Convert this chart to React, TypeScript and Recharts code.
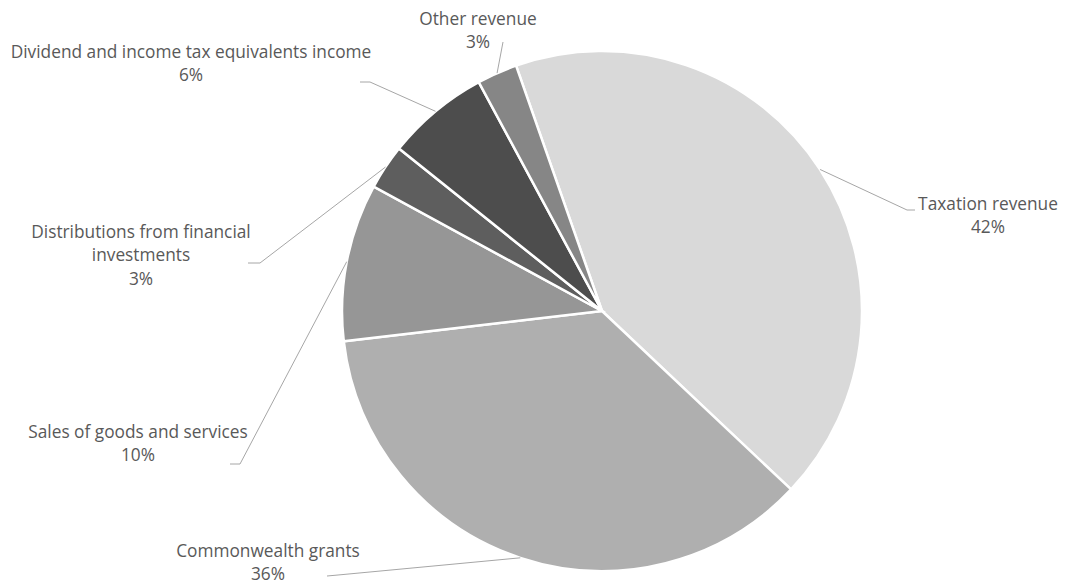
import React from "react";
import { PieChart, Pie, Cell } from "recharts";

const categories = [
  "Taxation revenue",
  "Commonwealth grants",
  "Sales of goods and services",
  "Distributions from financial investments",
  "Dividend and income tax equivalents income",
  "Other revenue",
];

// share of total revenue, %
const shares = [42.4, 36.1, 9.8, 2.8, 6.4, 2.5];

const sliceColors = ["#d9d9d9", "#afafaf", "#969696", "#5e5e5e", "#4d4d4d", "#868686"];

// where each label sits (leader elbow, leader end, text centre, line break)
const labelLayout = [
  { elbow: [907, 210], end: [915, 210], tx: 988, ty: 205, breakAfter: 0 },
  { elbow: [338, 575], end: [327, 576], tx: 268, ty: 552, breakAfter: 0 },
  { elbow: [240, 464], end: [230, 464], tx: 138, ty: 433, breakAfter: 0 },
  { elbow: [260, 263], end: [248, 263], tx: 141, ty: 233, breakAfter: 3 },
  { elbow: [370, 82], end: [360, 82], tx: 191, ty: 53, breakAfter: 0 },
  { elbow: null, end: [503, 42], tx: 478, ty: 20, breakAfter: 0 },
];

const data = categories.map((name, i) => ({ name, value: shares[i] }));

const RADIAN = Math.PI / 180;
const LINE_H = 23.7;

const renderLabel = (props: any) => {
  const { cx, cy, midAngle, outerRadius, percent, index, name } = props;
  const layout = labelLayout[index];
  const sx = cx + outerRadius * Math.cos(-midAngle * RADIAN);
  const sy = cy + outerRadius * Math.sin(-midAngle * RADIAN);
  const pts = [[sx, sy]];
  if (layout.elbow) pts.push(layout.elbow);
  pts.push(layout.end);

  const words = String(name).split(" ");
  const lines =
    layout.breakAfter > 0
      ? [words.slice(0, layout.breakAfter).join(" "), words.slice(layout.breakAfter).join(" ")]
      : [String(name)];
  lines.push(`${Math.round(percent * 100)}%`);

  return (
    <g>
      <polyline
        points={pts.map((p) => p.join(",")).join(" ")}
        fill="none"
        stroke="#a6a6a6"
        strokeWidth={1}
      />
      {lines.map((t, i) => (
        <text
          key={i}
          x={layout.tx}
          y={layout.ty + i * LINE_H}
          textAnchor="middle"
          dominantBaseline="middle"
          fill="#595959"
          fontSize={17.3}
          fontFamily="'Open Sans', sans-serif"
        >
          {t}
        </text>
      ))}
    </g>
  );
};

export default function App() {
  return (
    <div style={{ position: "fixed", left: 0, top: 0, background: "#fff" }}>
      <PieChart width={1066} height={586} margin={{ top: 0, right: 0, bottom: 0, left: 0 }}>
        <Pie
          data={data}
          dataKey="value"
          nameKey="name"
          cx={602}
          cy={311}
          outerRadius={260}
          startAngle={109.3}
          endAngle={-250.7}
          stroke="#ffffff"
          strokeWidth={2.5}
          label={renderLabel}
          labelLine={false}
          isAnimationActive={false}
        >
          {data.map((d, i) => (
            <Cell key={d.name} fill={sliceColors[i]} />
          ))}
        </Pie>
      </PieChart>
    </div>
  );
}
